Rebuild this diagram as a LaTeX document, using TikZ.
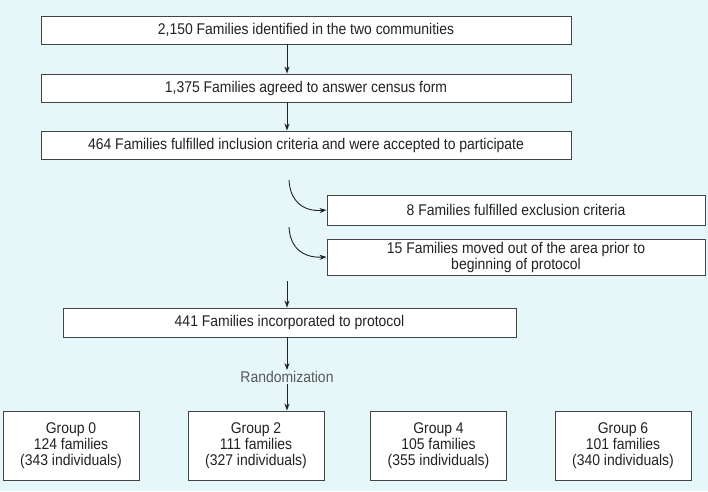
\documentclass[tikz,border=0pt]{standalone}
\usepackage{fontspec}
\setmainfont{Liberation Sans}[FakeStretch=0.9]
\usetikzlibrary{arrows.meta}
\definecolor{bgc}{HTML}{E6F7F9}
\definecolor{txt}{HTML}{222222}
\definecolor{edge}{HTML}{444444}
\tikzset{
  box/.style={draw=edge, line width=0.9pt, fill=white, text=txt, inner sep=0pt, align=center, font=\fontsize{15.5}{16}\selectfont},
  conn/.style={draw=txt, line width=0.9pt, -{Stealth[length=7pt,width=5pt]}},
}
\begin{document}
\begin{tikzpicture}[x=1pt,y=-1pt]
\fill[bgc] (0,0) rectangle (708,491);
\useasboundingbox (0,0) rectangle (708,491);
\node[box, minimum width=530, minimum height=28] (b1) at (306,30) {2,150 Families identified in the two communities};
\node[box, minimum width=530, minimum height=28] (b2) at (306,88) {1,375 Families agreed to answer census form};
\node[box, minimum width=530, minimum height=28] (b3) at (306,145) {464 Families fulfilled inclusion criteria and were accepted to participate};
\node[box, minimum width=378, minimum height=30] (b8) at (516,210) {8 Families fulfilled exclusion criteria};
\node[box, minimum width=378, minimum height=36] (b15) at (516,257) {15 Families moved out of the area prior to\\beginning of protocol};
\node[box, minimum width=453, minimum height=29] (b441) at (289.5,322.5) {441 Families incorporated to protocol};
\node[text=txt!75, font=\fontsize{15.5}{16}\selectfont, inner sep=1pt] (rand) at (287,377) {Randomization};
\node[box, minimum width=136, minimum height=69] (g0) at (71,445.5) {Group 0\\124 families\\(343 individuals)};
\node[box, minimum width=136, minimum height=69] (g2) at (256,445.5) {Group 2\\111 families\\(327 individuals)};
\node[box, minimum width=136, minimum height=69] (g4) at (438.5,445.5) {Group 4\\105 families\\(355 individuals)};
\node[box, minimum width=136, minimum height=69] (g6) at (623,445.5) {Group 6\\101 families\\(340 individuals)};
\coordinate (a1) at (287,44);
\coordinate (a2) at (287,102);
\coordinate (c1) at (289,180);
\coordinate (c2) at (289,227);
\coordinate (a3) at (287,281);
\coordinate (a4) at (287,337);
\draw[conn] (a1) -- (a1 |- b2.north);
\draw[conn] (a2) -- (a2 |- b3.north);
\draw[conn] (c1) .. controls (290,200) and (302,212) .. (b8.west);
\draw[conn] (c2) .. controls (290,247) and (302,258) .. (b15.west);
\draw[conn] (a3) -- (a3 |- b441.north);
\draw[conn] (a4) -- (rand.north);
\draw[conn] (rand.south) -- (rand.south |- g2.north);
\end{tikzpicture}
\end{document}
